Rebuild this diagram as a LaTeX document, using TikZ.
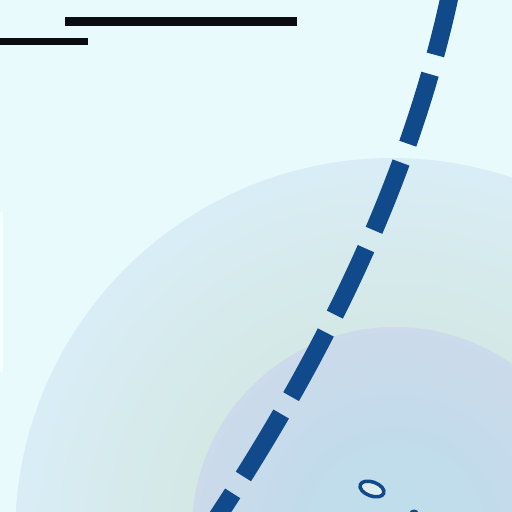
\documentclass[tikz,border=0pt]{standalone}
\definecolor{bgcyan}{RGB}{232,250,252}
\definecolor{dashblue}{RGB}{16,74,138}
\definecolor{barblack}{RGB}{10,12,18}
\definecolor{stripwhite}{RGB}{244,255,255}
\definecolor{blobfill}{RGB}{222,236,242}
\pgfdeclareradialshading{outerring}{\pgfpoint{0bp}{0bp}}{%
  rgb(0bp)=(0.83,0.91,0.90);
  rgb(13.5bp)=(0.83,0.91,0.90);
  rgb(25bp)=(0.85,0.93,0.965);
  rgb(50bp)=(0.85,0.93,0.965)}
\pgfdeclareradialshading{innerdisc}{\pgfpoint{0bp}{0bp}}{%
  rgb(0bp)=(0.75,0.87,0.92);
  rgb(12bp)=(0.76,0.86,0.92);
  rgb(25bp)=(0.80,0.855,0.92);
  rgb(50bp)=(0.80,0.855,0.92)}
\tikzset{
  bar/.style={draw=barblack, line cap=butt},
  dashline/.style={draw=dashblue, line width=0.36cm,
    dash pattern=on 1.46cm off 0.40cm, dash phase=1.78cm},
  blob/.style={draw=dashblue, line width=0.07cm, fill=blobfill}
}
\begin{document}
\begin{tikzpicture}[x=0.02cm, y=-0.02cm]
  \useasboundingbox (0,0) rectangle (512,512);
  \clip (0,0) rectangle (512,512);
  \fill[bgcyan] (0,0) rectangle (512,512);
  \fill[stripwhite] (0,212) rectangle (3,372);
  % shaded discs
  \shade[shading=outerring] (392,535) circle[radius=7.54cm];
  \shade[shading=innerdisc] (395,530) circle[radius=4.06cm];
  % black bars
  \coordinate (barAl) at (65,21.5);
  \coordinate (barAr) at (297,21.5);
  \coordinate (barBl) at (-2,41.5);
  \coordinate (barBr) at (88,41.5);
  \draw[bar, line width=0.18cm] (barAl) -- (barAr);
  \draw[bar, line width=0.14cm] (barBl) -- (barBr);
  % dashed curve
  \coordinate (dTop) at (453,-20);
  \coordinate (dBot) at (212,525);
  \draw[dashline] (dTop) .. controls (417,160) and (335,340) .. (dBot);
  % small blobs
  \draw[blob, rotate around={-20:(372,489)}] (372,489) ellipse[x radius=0.25cm, y radius=0.14cm];
  \fill[dashblue] (414,513) ellipse[x radius=0.09cm, y radius=0.07cm];
\end{tikzpicture}
\end{document}
